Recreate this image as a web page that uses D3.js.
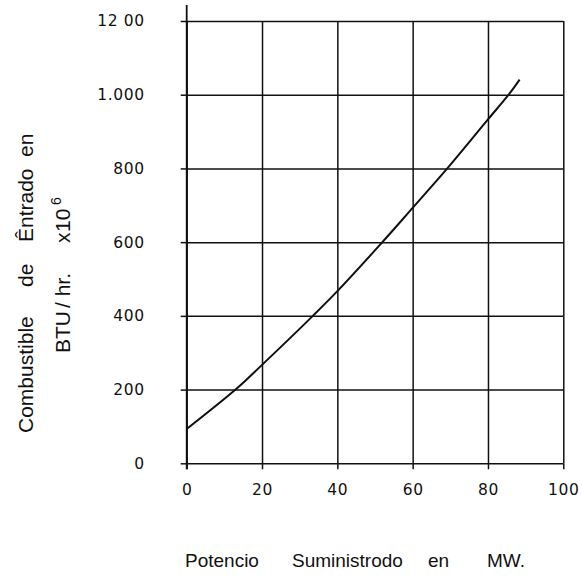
<!DOCTYPE html>
<html><head><meta charset="utf-8">
<script src="https://cdn.jsdelivr.net/npm/d3@7"></script>
<style>
body{margin:0;background:#fff;}
svg text{font-family:"DejaVu Sans",sans-serif;fill:#111;}
</style></head>
<body><svg id="c" width="582" height="577"></svg>
<script>
// Data
const powerMW = [0, 13.2, 20, 33.5, 40, 51.6, 60, 69.2, 80, 85.7, 88.4];
const fuelBTU = [93, 202, 267, 400, 467, 596, 693, 800, 933, 1003, 1041];
const xTicks = [0, 20, 40, 60, 80, 100];
const xTickLabels = ["0", "20", "40", "60", "80", "100"];
const yTicks = [0, 200, 400, 600, 800, 1000, 1200];
const yTickLabels = ["0", "200", "400", "600", "800", "1.000", "12 00"];
const xTitleWords = ["Potencio", "Suministrodo", "en", "MW."];
const yTitle1Words = ["Combustible", "de", "Êntrado", "en"];
const yTitle2Words = ["BTU", "/ hr.", "x", "10"];
const yTitle2Sup = "6";

const svg = d3.select("#c");
const x = d3.scaleLinear().domain([0, 100]).range([186.7, 563.3]);
const y = d3.scaleLinear().domain([0, 1200]).range([463.3, 21]);
const W = x(100) - x(0), H = y(0) - y(1200);

// grid
svg.append("g").attr("transform", `translate(0,${y(0)})`)
  .call(d3.axisBottom(x).tickValues(xTicks).tickSize(-H).tickFormat(""))
  .call(g => g.select(".domain").remove())
  .selectAll("line").attr("stroke", "#111").attr("stroke-width", 1.5);
svg.append("g").attr("transform", `translate(${x(0)},0)`)
  .call(d3.axisLeft(y).tickValues(yTicks).tickSize(-W).tickFormat(""))
  .call(g => g.select(".domain").remove())
  .selectAll("line").attr("stroke", "#111").attr("stroke-width", 1.5);

// outward ticks + labels
const xa = svg.append("g").attr("transform", `translate(0,${y(0)})`)
  .call(d3.axisBottom(x).tickValues(xTicks).tickSize(6).tickPadding(14)
    .tickFormat((d, i) => xTickLabels[i]));
xa.select(".domain").remove();
xa.selectAll("line").attr("stroke", "#111").attr("stroke-width", 1.5);
xa.selectAll("text").attr("font-size", 15.5).attr("letter-spacing", 0.6)
  .attr("dy", null).attr("y", 32)
  .style("font-family", "DejaVu Sans").attr("fill", "#111");

const ya = svg.append("g").attr("transform", `translate(${x(0)},0)`)
  .call(d3.axisLeft(y).tickValues(yTicks).tickSize(6).tickPadding(36)
    .tickFormat((d, i) => yTickLabels[i]));
ya.select(".domain").remove();
ya.selectAll("line").attr("stroke", "#111").attr("stroke-width", 1.5);
ya.selectAll("text").attr("font-size", 15.5).attr("letter-spacing", 0.6)
  .style("font-family", "DejaVu Sans").attr("fill", "#111");

// y axis line extended above top
svg.append("line").attr("x1", x(0)).attr("x2", x(0))
  .attr("y1", y(1200) - 16).attr("y2", y(0) + 6)
  .attr("stroke", "#111").attr("stroke-width", 1.8);

// curve
const pts = powerMW.map((p, i) => [p, fuelBTU[i]]);
svg.append("path").datum(pts)
  .attr("fill", "none").attr("stroke", "#111").attr("stroke-width", 2)
  .attr("d", d3.line().x(d => x(d[0])).y(d => y(d[1])).curve(d3.curveCatmullRom.alpha(0.5)));

// x title
const xPos = [185, 292, 428, 487];
svg.append("g").selectAll("text").data(xTitleWords).join("text")
  .attr("x", (d, i) => xPos[i]).attr("y", 567)
  .style("font-family", "Liberation Sans")
  .attr("font-size", 19).text(d => d);

// y titles (rotated words)
const y1Pos = [433, 287, 242, 157];
svg.append("g").selectAll("text").data(yTitle1Words).join("text")
  .attr("transform", (d, i) => `translate(33,${y1Pos[i]}) rotate(-90)`)
  .style("font-family", "Liberation Sans")
  .attr("font-size", 21).text(d => d);
const y2Pos = [353, 308, 243, 232];
svg.append("g").selectAll("text").data(yTitle2Words).join("text")
  .attr("transform", (d, i) => `translate(70,${y2Pos[i]}) rotate(-90)`)
  .style("font-family", "Liberation Sans")
  .attr("font-size", 21).text(d => d);
svg.append("text").attr("transform", "translate(61,205) rotate(-90)")
  .style("font-family", "Liberation Sans")
  .attr("font-size", 14).text(yTitle2Sup);
</script></body></html>
